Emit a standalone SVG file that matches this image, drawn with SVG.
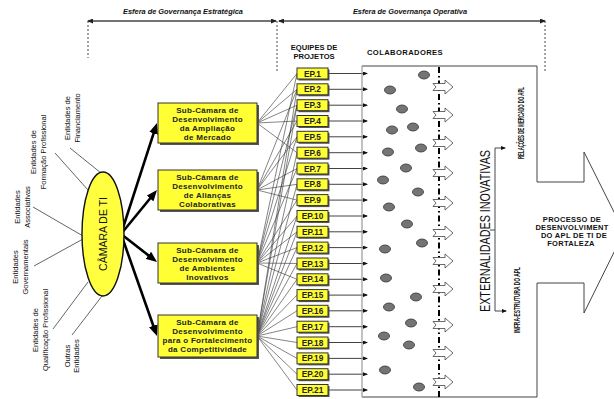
<svg xmlns="http://www.w3.org/2000/svg" width="614" height="399" viewBox="0 0 614 399">
<style>
text{font-family:"Liberation Sans",Arial,sans-serif;fill:#111}
.hdr{font-size:7.4px;font-weight:bold;font-style:italic;text-anchor:middle}
.col{font-size:7.6px;font-weight:bold;text-anchor:middle}
.lbl{font-size:7.5px;text-anchor:middle}
.sub{font-size:8px;font-weight:bold;text-anchor:middle;letter-spacing:0.3px;fill:#222}
.ep{font-size:8.3px;font-weight:bold;text-anchor:middle;fill:#222}
.box{fill:#FFFF33;stroke:#333;stroke-width:1}
.shadow{fill:#555}
.thin{stroke:#333;stroke-width:0.6;fill:none}
.epa{stroke:#111;stroke-width:0.8;marker-end:url(#sa)}
.thick{stroke:#000;stroke-width:2.6;marker-end:url(#ba)}
.dot{fill:#747474;stroke:#333;stroke-width:0.8}
.dotted{stroke:#333;stroke-width:0.9;stroke-dasharray:2,2;fill:none}
.harrow{fill:#fff;stroke:#444;stroke-width:0.8}
</style>
<defs>
<marker id="ba" markerUnits="userSpaceOnUse" markerWidth="11" markerHeight="9" refX="3" refY="4.5" orient="auto"><path d="M0,0 L11,4.5 L0,9 Z" fill="#000"/></marker>
<marker id="sa" markerUnits="userSpaceOnUse" markerWidth="5" markerHeight="4" refX="4" refY="2" orient="auto"><path d="M0,0 L5,2 L0,4 Z" fill="#111"/></marker>
<marker id="ha" markerUnits="userSpaceOnUse" markerWidth="6" markerHeight="5" refX="5" refY="2.5" orient="auto-start-reverse"><path d="M0,0 L6,2.5 L0,5 Z" fill="#222"/></marker>
<path id="hx" class="harrow" d="M0,-3.5 L12,-3.5 L12,-7 L20,0 L12,7 L12,3.5 L0,3.5 L3,0 Z"/>
</defs>

<g id="header">
<text class="hdr" x="183" y="14">Esfera de Governança Estratégica</text>
<text class="hdr" x="410" y="14">Esfera de Governança Operativa</text>
<line x1="88" y1="21" x2="276" y2="21" stroke="#444" stroke-width="1.5" marker-start="url(#ha)" marker-end="url(#ha)"/>
<line x1="279" y1="21" x2="545" y2="21" stroke="#444" stroke-width="1.5" marker-start="url(#ha)" marker-end="url(#ha)"/>
<line class="dotted" x1="88" y1="21" x2="88" y2="58"/>
<line class="dotted" x1="277" y1="21" x2="277" y2="73"/>
<line class="dotted" x1="545" y1="21" x2="545" y2="73"/>
<text class="col" x="314" y="50">EQUIPES DE</text>
<text class="col" x="314" y="59">PROJETOS</text>
<text class="col" x="405" y="55" style="letter-spacing:0.4px">COLABORADORES</text>
</g>

<g id="entity-labels">
<text class="lbl" transform="translate(70,118) rotate(-90)"><tspan x="0" y="0">Entidades de</tspan><tspan x="0" dy="10">Financiamento</tspan></text>
<text class="lbl" transform="translate(36,152) rotate(-90)"><tspan x="0" y="0">Entidades de</tspan><tspan x="0" dy="10">Formação Profissional</tspan></text>
<text class="lbl" transform="translate(20,207) rotate(-90)"><tspan x="0" y="0">Entidades</tspan><tspan x="0" dy="10">Associativas</tspan></text>
<text class="lbl" transform="translate(18,267) rotate(-90)"><tspan x="0" y="0">Entidades</tspan><tspan x="0" dy="10">Governamentais</tspan></text>
<text class="lbl" transform="translate(38,330) rotate(-90)"><tspan x="0" y="0">Entidades de</tspan><tspan x="0" dy="10">Qualificação Profissional</tspan></text>
<text class="lbl" transform="translate(70,356) rotate(-90)"><tspan x="0" y="0">Outras</tspan><tspan x="0" dy="9">Entidades</tspan></text>
</g>

<g id="connectors">
<g stroke="#222" stroke-width="0.7">
<line x1="70" y1="148" x2="101" y2="173"/>
<line x1="55" y1="153" x2="88" y2="190"/>
<line x1="33" y1="207" x2="83" y2="236"/>
<line x1="34" y1="266" x2="83" y2="239"/>
<line x1="53" y1="329" x2="88" y2="282"/>
<line x1="72" y1="335" x2="102" y2="296"/>
</g>
<line class="thick" x1="121" y1="234" x2="154.5" y2="130.6"/>
<line class="thick" x1="121" y1="234" x2="151.9" y2="196.2"/>
<line class="thick" x1="121" y1="234" x2="150.7" y2="257.1"/>
<line class="thick" x1="121" y1="234" x2="154.3" y2="328.5"/>
<g class="thin">
<path d="M257,123 L297,73.5 M257,123 L297,89.3 M257,123 L297,105.2 M257,123 L297,121 M257,123 L297,152.7"/>
<path d="M257,190 L297,89.3 M257,190 L297,121 M257,190 L297,136.8 M257,190 L297,168.5 M257,190 L297,184.3 M257,190 L297,200.1"/>
<path d="M257,263 L297,73.5 M257,263 L297,105.2 M257,263 L297,136.8 M257,263 L297,168.5 M257,263 L297,200.1 M257,263 L297,216 M257,263 L297,231.8 M257,263 L297,247.6 M257,263 L297,263.5 M257,263 L297,279.3"/>
<path d="M257,336 L297,89.3 M257,336 L297,105.2 M257,336 L297,152.7 M257,336 L297,184.3 M257,336 L297,216 M257,336 L297,231.8 M257,336 L297,247.6 M257,336 L297,263.5 M257,336 L297,279.3 M257,336 L297,295.1 M257,336 L297,310.8 M257,336 L297,326.7 M257,336 L297,342.5 M257,336 L297,358.4 M257,336 L297,374.2 M257,336 L297,390"/>
</g>
<g>
<line class="epa" x1="328" y1="73.5" x2="367" y2="73.5"/>
<line class="epa" x1="328" y1="89.3" x2="367" y2="89.3"/>
<line class="epa" x1="328" y1="105.2" x2="367" y2="105.2"/>
<line class="epa" x1="328" y1="121" x2="367" y2="121"/>
<line class="epa" x1="328" y1="136.8" x2="367" y2="136.8"/>
<line class="epa" x1="328" y1="152.7" x2="367" y2="152.7"/>
<line class="epa" x1="328" y1="168.5" x2="367" y2="168.5"/>
<line class="epa" x1="328" y1="184.3" x2="367" y2="184.3"/>
<line class="epa" x1="328" y1="200.1" x2="367" y2="200.1"/>
<line class="epa" x1="328" y1="216" x2="367" y2="216"/>
<line class="epa" x1="328" y1="231.8" x2="367" y2="231.8"/>
<line class="epa" x1="328" y1="247.6" x2="367" y2="247.6"/>
<line class="epa" x1="328" y1="263.5" x2="367" y2="263.5"/>
<line class="epa" x1="328" y1="279.3" x2="367" y2="279.3"/>
<line class="epa" x1="328" y1="295.1" x2="367" y2="295.1"/>
<line class="epa" x1="328" y1="310.8" x2="367" y2="310.8"/>
<line class="epa" x1="328" y1="326.7" x2="367" y2="326.7"/>
<line class="epa" x1="328" y1="342.5" x2="367" y2="342.5"/>
<line class="epa" x1="328" y1="358.4" x2="367" y2="358.4"/>
<line class="epa" x1="328" y1="374.2" x2="367" y2="374.2"/>
<line class="epa" x1="328" y1="390" x2="367" y2="390"/>
</g>
</g>

<g id="camara-ti">
<ellipse cx="103" cy="234" rx="21" ry="62" fill="#FFFF40" stroke="#111" stroke-width="1.4"/>
<text transform="translate(107,234) rotate(-90)" style="font-size:10.5px;text-anchor:middle">CÂMARA DE TI</text>
</g>

<g id="sub-ampliacao">
<rect class="shadow" x="160" y="105" width="99" height="40"/>
<rect class="box" x="158" y="103" width="99" height="40"/>
<text class="sub" x="207.5" y="112.5">Sub-Câmara de</text>
<text class="sub" x="207.5" y="121.5">Desenvolvimento</text>
<text class="sub" x="207.5" y="130.5">da Ampliação</text>
<text class="sub" x="207.5" y="139.5">de Mercado</text>
</g>
<g id="sub-aliancas">
<rect class="shadow" x="160" y="172" width="99" height="40"/>
<rect class="box" x="158" y="170" width="99" height="40"/>
<text class="sub" x="207.5" y="179.5">Sub-Câmara de</text>
<text class="sub" x="207.5" y="188.5">Desenvolvimento</text>
<text class="sub" x="207.5" y="197.5">de Alianças</text>
<text class="sub" x="207.5" y="206.5">Colaborativas</text>
</g>
<g id="sub-ambientes">
<rect class="shadow" x="160" y="245" width="99" height="40"/>
<rect class="box" x="158" y="243" width="99" height="40"/>
<text class="sub" x="207.5" y="252.5">Sub-Câmara de</text>
<text class="sub" x="207.5" y="261.5">Desenvolvimento</text>
<text class="sub" x="207.5" y="270.5">de Ambientes</text>
<text class="sub" x="207.5" y="279.5">Inovativos</text>
</g>
<g id="sub-competitividade">
<rect class="shadow" x="160" y="317" width="99" height="42"/>
<rect class="box" x="158" y="315" width="99" height="42"/>
<text class="sub" x="207.5" y="325">Sub-Câmara de</text>
<text class="sub" x="207.5" y="334">Desenvolvimento</text>
<text class="sub" x="207.5" y="343">para o Fortalecimento</text>
<text class="sub" x="207.5" y="352">da Competitividade</text>
</g>

<g id="ep-boxes">
<g id="ep1"><rect class="shadow" x="298.5" y="69.5" width="31" height="11"/><rect class="box" x="297" y="68" width="31" height="11"/><text class="ep" x="312.5" y="76.5">EP.1</text></g>
<g id="ep2"><rect class="shadow" x="298.5" y="85.3" width="31" height="11"/><rect class="box" x="297" y="83.8" width="31" height="11"/><text class="ep" x="312.5" y="92.3">EP.2</text></g>
<g id="ep3"><rect class="shadow" x="298.5" y="101.2" width="31" height="11"/><rect class="box" x="297" y="99.7" width="31" height="11"/><text class="ep" x="312.5" y="108.2">EP.3</text></g>
<g id="ep4"><rect class="shadow" x="298.5" y="117" width="31" height="11"/><rect class="box" x="297" y="115.5" width="31" height="11"/><text class="ep" x="312.5" y="124">EP.4</text></g>
<g id="ep5"><rect class="shadow" x="298.5" y="132.8" width="31" height="11"/><rect class="box" x="297" y="131.3" width="31" height="11"/><text class="ep" x="312.5" y="139.8">EP.5</text></g>
<g id="ep6"><rect class="shadow" x="298.5" y="148.7" width="31" height="11"/><rect class="box" x="297" y="147.2" width="31" height="11"/><text class="ep" x="312.5" y="155.7">EP.6</text></g>
<g id="ep7"><rect class="shadow" x="298.5" y="164.5" width="31" height="11"/><rect class="box" x="297" y="163" width="31" height="11"/><text class="ep" x="312.5" y="171.5">EP.7</text></g>
<g id="ep8"><rect class="shadow" x="298.5" y="180.3" width="31" height="11"/><rect class="box" x="297" y="178.8" width="31" height="11"/><text class="ep" x="312.5" y="187.3">EP.8</text></g>
<g id="ep9"><rect class="shadow" x="298.5" y="196.1" width="31" height="11"/><rect class="box" x="297" y="194.6" width="31" height="11"/><text class="ep" x="312.5" y="203.1">EP.9</text></g>
<g id="ep10"><rect class="shadow" x="298.5" y="212" width="31" height="11"/><rect class="box" x="297" y="210.5" width="31" height="11"/><text class="ep" x="312.5" y="219">EP.10</text></g>
<g id="ep11"><rect class="shadow" x="298.5" y="227.8" width="31" height="11"/><rect class="box" x="297" y="226.3" width="31" height="11"/><text class="ep" x="312.5" y="234.8">EP.11</text></g>
<g id="ep12"><rect class="shadow" x="298.5" y="243.6" width="31" height="11"/><rect class="box" x="297" y="242.1" width="31" height="11"/><text class="ep" x="312.5" y="250.6">EP.12</text></g>
<g id="ep13"><rect class="shadow" x="298.5" y="259.5" width="31" height="11"/><rect class="box" x="297" y="258" width="31" height="11"/><text class="ep" x="312.5" y="266.5">EP.13</text></g>
<g id="ep14"><rect class="shadow" x="298.5" y="275.3" width="31" height="11"/><rect class="box" x="297" y="273.8" width="31" height="11"/><text class="ep" x="312.5" y="282.3">EP.14</text></g>
<g id="ep15"><rect class="shadow" x="298.5" y="291.1" width="31" height="11"/><rect class="box" x="297" y="289.6" width="31" height="11"/><text class="ep" x="312.5" y="298.1">EP.15</text></g>
<g id="ep16"><rect class="shadow" x="298.5" y="306.8" width="31" height="11"/><rect class="box" x="297" y="305.3" width="31" height="11"/><text class="ep" x="312.5" y="313.8">EP.16</text></g>
<g id="ep17"><rect class="shadow" x="298.5" y="322.7" width="31" height="11"/><rect class="box" x="297" y="321.2" width="31" height="11"/><text class="ep" x="312.5" y="329.7">EP.17</text></g>
<g id="ep18"><rect class="shadow" x="298.5" y="338.5" width="31" height="11"/><rect class="box" x="297" y="337" width="31" height="11"/><text class="ep" x="312.5" y="345.5">EP.18</text></g>
<g id="ep19"><rect class="shadow" x="298.5" y="354.4" width="31" height="11"/><rect class="box" x="297" y="352.9" width="31" height="11"/><text class="ep" x="312.5" y="361.4">EP.19</text></g>
<g id="ep20"><rect class="shadow" x="298.5" y="370.2" width="31" height="11"/><rect class="box" x="297" y="368.7" width="31" height="11"/><text class="ep" x="312.5" y="377.2">EP.20</text></g>
<g id="ep21"><rect class="shadow" x="298.5" y="386" width="31" height="11"/><rect class="box" x="297" y="384.5" width="31" height="11"/><text class="ep" x="312.5" y="393">EP.21</text></g>
</g>

<g id="colaboradores">
<path d="M362,66 H537 V182 H584 V152 L624,232 L584,313 V283 H537 V397 H362" fill="none" stroke="#444" stroke-width="1"/>
<line x1="362" y1="66" x2="362" y2="397" stroke="#999" stroke-width="1.2"/>
<line x1="439" y1="67" x2="439" y2="397" stroke="#000" stroke-width="2" stroke-dasharray="6,3,1.5,3"/>
<g>
<ellipse class="dot" cx="424" cy="75" rx="5.5" ry="4"/>
<ellipse class="dot" cx="390" cy="90" rx="5.5" ry="4"/>
<ellipse class="dot" cx="402" cy="109" rx="5.5" ry="4"/>
<ellipse class="dot" cx="413" cy="127" rx="5.5" ry="4"/>
<ellipse class="dot" cx="392" cy="130" rx="5.5" ry="4"/>
<ellipse class="dot" cx="421" cy="148" rx="5.5" ry="4"/>
<ellipse class="dot" cx="388" cy="152" rx="5.5" ry="4"/>
<ellipse class="dot" cx="406" cy="168" rx="5.5" ry="4"/>
<ellipse class="dot" cx="383" cy="180" rx="5.5" ry="4"/>
<ellipse class="dot" cx="418" cy="192" rx="5.5" ry="4"/>
<ellipse class="dot" cx="389" cy="207" rx="5.5" ry="4"/>
<ellipse class="dot" cx="407" cy="224" rx="5.5" ry="4"/>
<ellipse class="dot" cx="422" cy="243" rx="5.5" ry="4"/>
<ellipse class="dot" cx="385" cy="249" rx="5.5" ry="4"/>
<ellipse class="dot" cx="386" cy="278" rx="5.5" ry="4"/>
<ellipse class="dot" cx="416" cy="297" rx="5.5" ry="4"/>
<ellipse class="dot" cx="389" cy="307" rx="5.5" ry="4"/>
<ellipse class="dot" cx="411" cy="323" rx="5.5" ry="4"/>
<ellipse class="dot" cx="384" cy="336" rx="5.5" ry="4"/>
<ellipse class="dot" cx="409" cy="345" rx="5.5" ry="4"/>
<ellipse class="dot" cx="385" cy="370" rx="5.5" ry="4"/>
<ellipse class="dot" cx="419" cy="387" rx="5.5" ry="4"/>
</g>
<g>
<use href="#hx" x="433" y="87"/>
<use href="#hx" x="433" y="115"/>
<use href="#hx" x="433" y="143"/>
<use href="#hx" x="433" y="173"/>
<use href="#hx" x="433" y="203"/>
<use href="#hx" x="433" y="233"/>
<use href="#hx" x="433" y="261"/>
<use href="#hx" x="433" y="289"/>
<use href="#hx" x="433" y="325"/>
<use href="#hx" x="433" y="353"/>
<use href="#hx" x="433" y="382"/>
</g>
</g>

<g id="externalidades">
<text transform="translate(489.5,231) rotate(-90)" textLength="162" lengthAdjust="spacingAndGlyphs" style="font-size:15px;text-anchor:middle">EXTERNALIDADES INOVATIVAS</text>
<path d="M490,230 H495 M495,148 V311" stroke="#333" stroke-width="0.9" fill="none"/>
<line x1="495" y1="148" x2="505" y2="148" stroke="#333" stroke-width="0.9" marker-end="url(#sa)"/>
<line x1="495" y1="311" x2="506" y2="311" stroke="#333" stroke-width="0.9" marker-end="url(#sa)"/>
</g>
<g id="relacoes">
<text transform="translate(524,123) rotate(-90)" textLength="72" lengthAdjust="spacingAndGlyphs" style="font-size:8.2px;font-weight:bold;text-anchor:middle">RELAÇÕES DE MERCADO DO APL</text>
</g>
<g id="infraestrutura">
<text transform="translate(520,300) rotate(-90)" textLength="66" lengthAdjust="spacingAndGlyphs" style="font-size:8.2px;font-weight:bold;text-anchor:middle">INFRA-ESTRUTURA DO APL</text>
</g>
<g id="processo">
<text style="font-size:7.5px;font-weight:bold;text-anchor:middle;letter-spacing:0.3px" x="572" y="221.5">PROCESSO DE</text>
<text style="font-size:7.5px;font-weight:bold;text-anchor:middle;letter-spacing:0.3px" x="572" y="229.5">DESENVOLVIMENT</text>
<text style="font-size:7.5px;font-weight:bold;text-anchor:middle;letter-spacing:0.3px" x="574" y="237.5">DO APL DE TI DE</text>
<text style="font-size:7.5px;font-weight:bold;text-anchor:middle;letter-spacing:0.3px" x="571" y="245.5">FORTALEZA</text>
</g>
</svg>
